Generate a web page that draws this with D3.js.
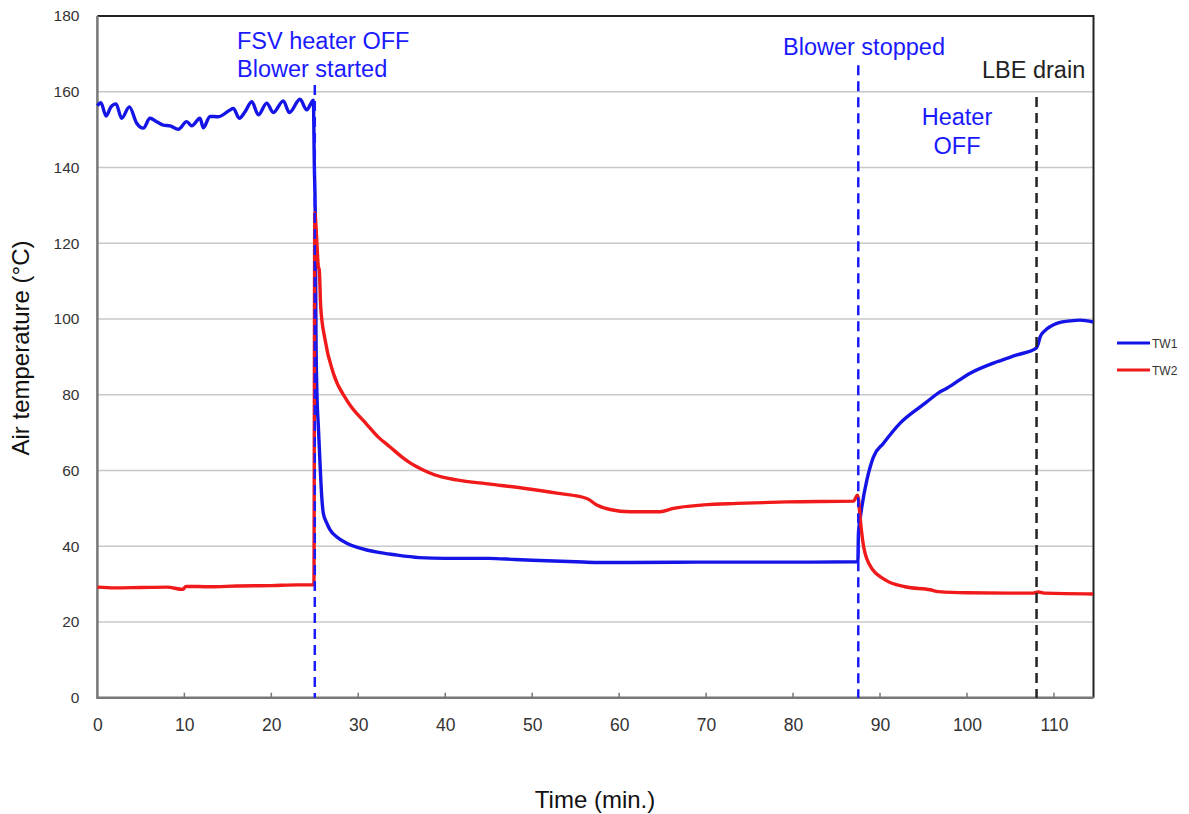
<!DOCTYPE html>
<html>
<head>
<meta charset="utf-8">
<script src="https://cdn.jsdelivr.net/npm/d3@7"></script>
<style>
  body { margin: 0; background: #fff; }
  text { font-family: "Liberation Sans", Arial, sans-serif; }
</style>
</head>
<body>
<svg id="chart" width="1189" height="814"></svg>
<script>
// TW1 (blue) readings: [minutes, temperature °C]
const tw1 = [
  [0.0,156.3],[0.4,157.1],[1.0,153.6],[1.56,156],[2.14,156.8],[2.79,153],[3.67,156],
  [4.52,151.7],[5.28,150.4],[6.05,153],[6.82,152.1],[7.58,151.2],[8.35,151],[9.31,150.1],
  [10.27,152.1],[10.85,151],[11.8,153],[12.18,150.5],[12.95,153.5],[13.91,153.4],
  [15.25,155.2],[15.63,155.6],[16.32,153],[16.98,154.7],[17.75,157.4],[18.51,153.9],
  [19.47,157],[20.23,154.5],[21.38,157.6],[22.07,154.5],[23.3,158],[24.07,155.2],
  [24.65,157.3],[24.83,157.8],
  [24.95,140],[25.05,128],[25.14,95],[25.25,80],[25.4,72],[25.6,62],[25.8,53],
  [25.98,48.7],[26.4,46],[26.76,44.3],[27.5,42.5],[28.67,40.8],[30.0,39.6],[30.97,39],
  [32.5,38.3],[34.0,37.8],[37,37.0],[40,36.8],[45,36.8],[48,36.5],[50,36.3],[55,35.9],
  [57.5,35.7],[61,35.7],[70,35.8],[80,35.8],[87.45,35.9],
  [87.52,43.5],[87.7,47],[87.91,50.4],[88.49,57.5],[89.25,63.6],[90.4,67.2],[92.32,72.5],
  [94.62,76.8],[95.76,78.8],[96.72,80.5],[97.69,81.7],[100.37,85.7],[103.44,88.7],
  [105.74,90.5],[107.96,92.3],[108.2,93.5],[108.42,95.3],[109.0,97],[109.57,98],
  [110.5,99],[111.87,99.5],[113,99.7],[114.5,99.2]
];

// TW2 (red) readings
const tw2 = [
  [0,29.2],[2,29.0],[5,29.1],[8,29.2],[9.8,28.6],[10.2,29.4],[13,29.3],[16,29.5],
  [20,29.6],[23,29.8],[24.9,29.8],[25.0,128],[25.1,126],[25.22,120.9],[25.4,114],
  [25.52,112.9],[25.68,103.2],[26.18,94.5],[27.13,85.7],[28.67,78.6],[30.97,72.2],
  [32.3,68.8],[33.66,66.2],[35.0,63.6],[35.96,62],[37.4,60.2],[38.83,58.8],[41.33,57.5],
  [45.16,56.4],[48.99,55.3],[52.83,54],[56.28,52.6],[57.43,50.9],[58.96,49.7],
  [61.26,49.1],[64.7,49.1],[66.24,50],[69.69,50.9],[73.53,51.3],[79.28,51.7],
  [86.95,51.9],[87.41,53.5],[87.55,52],[87.7,47.8],[88.0,41.6],[88.7,35.5],[90.6,31.1],
  [92.9,29.3],[95.76,28.5],[96.72,28],[100,27.7],[107.5,27.6],[108.2,27.9],[109,27.6],
  [114.5,27.4]
];

// event markers: [minute, top of dashed line in °C, colour]
const events = [
  [25.0, 161.8, "#1a1aff"],
  [87.5, 167.0, "#1a1aff"],
  [108.0, 158.6, "#222"]
];

const xTicks = [0, 10, 20, 30, 40, 50, 60, 70, 80, 90, 100, 110];
const yTicks = [0, 20, 40, 60, 80, 100, 120, 140, 160, 180];

const svg = d3.select("#chart");
const mLeft = 97.4, mRight = 1093.5, mTop = 16, mBottom = 697.7;

const x = d3.scaleLinear().domain([0, 114.55]).range([mLeft, mRight]);
const y = d3.scaleLinear().domain([0, 180]).range([mBottom, mTop]);

// gridlines
svg.append("g")
  .selectAll("line")
  .data(yTicks.filter(d => d > 0 && d < 180))
  .join("line")
  .attr("x1", mLeft).attr("x2", mRight)
  .attr("y1", d => y(d)).attr("y2", d => y(d))
  .attr("stroke", "#c8c8c8").attr("stroke-width", 1.5);

// axes
const xAxis = svg.append("g")
  .attr("transform", `translate(0,${mBottom})`)
  .call(d3.axisBottom(x).tickValues(xTicks).tickSize(0).tickPadding(21));
xAxis.select(".domain").remove();
xAxis.selectAll("text").attr("font-size", 17.5).attr("fill", "#333");

svg.append("g")
  .selectAll("line")
  .data(xTicks.filter(d => d > 0))
  .join("line")
  .attr("x1", d => x(d)).attr("x2", d => x(d))
  .attr("y1", mBottom).attr("y2", mBottom - 5)
  .attr("stroke", "#777").attr("stroke-width", 1.5);

const yAxis = svg.append("g")
  .attr("transform", `translate(${mLeft},0)`)
  .call(d3.axisLeft(y).tickValues(yTicks).tickSize(0).tickPadding(18));
yAxis.select(".domain").remove();
yAxis.selectAll("text").attr("font-size", 15.5).attr("fill", "#333");

// frame
svg.append("path")
  .attr("d", `M${mLeft},${mTop}H${mRight}V${mBottom}`)
  .attr("fill", "none").attr("stroke", "#222").attr("stroke-width", 2);
svg.append("path")
  .attr("d", `M${mLeft},${mTop}V${mBottom}H${mRight}`)
  .attr("fill", "none").attr("stroke", "#777").attr("stroke-width", 2.5);

// series
const line = d3.line().curve(d3.curveMonotoneX).x(d => x(d[0])).y(d => y(d[1]));
svg.append("path").datum(tw1).attr("d", line)
  .attr("fill", "none").attr("stroke", "#1414e6").attr("stroke-width", 3.4)
  .attr("stroke-linejoin", "round");
svg.append("path").datum(tw2).attr("d", line)
  .attr("fill", "none").attr("stroke", "#f01a1a").attr("stroke-width", 3.4)
  .attr("stroke-linejoin", "round");

// event lines
svg.append("g")
  .selectAll("line")
  .data(events)
  .join("line")
  .attr("x1", d => x(d[0])).attr("x2", d => x(d[0]))
  .attr("y1", d => y(d[1])).attr("y2", mBottom)
  .attr("stroke", d => d[2]).attr("stroke-width", 2.5)
  .attr("stroke-dasharray", "10,6");

// annotations
const notes = [
  ["FSV heater OFF", 237, 49, "start", "#1a1aff"],
  ["Blower started", 237, 77, "start", "#1a1aff"],
  ["Blower stopped", 783, 55, "start", "#1a1aff"],
  ["Heater", 957, 125, "middle", "#1a1aff"],
  ["OFF", 957, 154, "middle", "#1a1aff"],
  ["LBE drain", 982, 78, "start", "#222"]
];
svg.append("g")
  .selectAll("text")
  .data(notes)
  .join("text")
  .attr("x", d => d[1]).attr("y", d => d[2])
  .attr("text-anchor", d => d[3]).attr("fill", d => d[4])
  .attr("font-size", 23.5)
  .text(d => d[0]);

// axis titles
svg.append("text")
  .attr("transform", "translate(29,348) rotate(-90)")
  .attr("text-anchor", "middle").attr("font-size", 24).attr("fill", "#111")
  .text("Air temperature (°C)");
svg.append("text")
  .attr("x", 595).attr("y", 808)
  .attr("text-anchor", "middle").attr("font-size", 24).attr("fill", "#111")
  .text("Time (min.)");

// legend
const legend = [["TW1", "#1414e6"], ["TW2", "#f01a1a"]];
const lg = svg.append("g").selectAll("g").data(legend).join("g")
  .attr("transform", (d, i) => `translate(1117,${343 + i * 27})`);
lg.append("line").attr("x1", 0).attr("x2", 33)
  .attr("stroke", d => d[1]).attr("stroke-width", 3);
lg.append("text").attr("x", 35).attr("y", 4.5)
  .attr("font-size", 12).attr("fill", "#333").text(d => d[0]);
</script>
</body>
</html>
